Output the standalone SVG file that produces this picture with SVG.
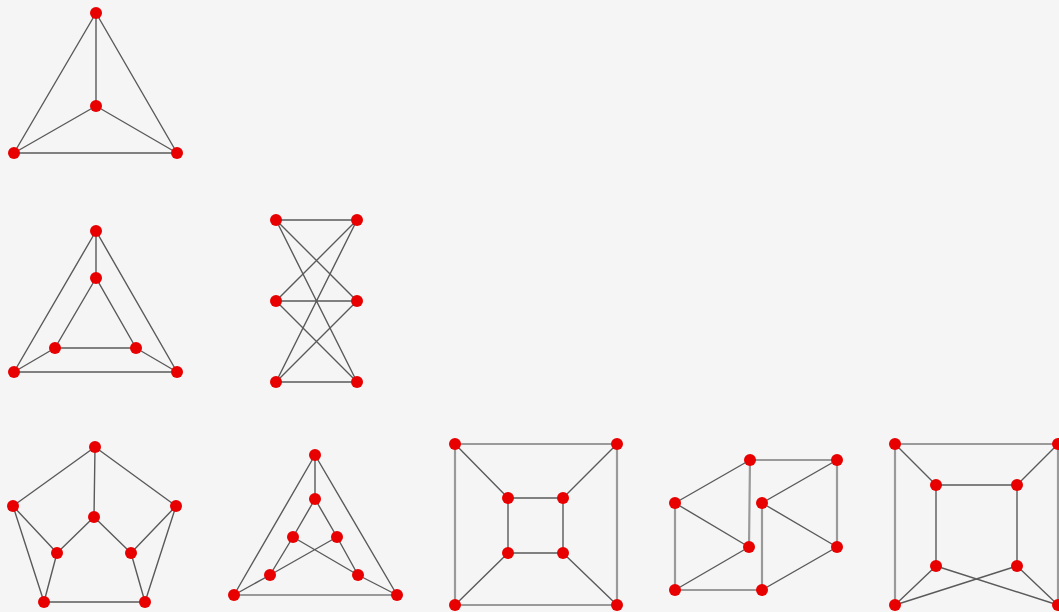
<svg xmlns="http://www.w3.org/2000/svg" width="1059" height="612" viewBox="0 0 1059 612">
<style>
.e{stroke:#5a5a5a;stroke-width:1.4;fill:none}
.w{stroke:#9a9a9a;stroke-width:2.2;fill:none}
.n{fill:#e80000}
</style>
<rect width="1059" height="612" fill="#f5f5f5"/>
<g id="connectors">
<!-- K4 -->
<path class="e" d="M96,13L14,153M96,13L177,153M96,13L96,106M96,106L14,153M96,106L177,153M14,153L177,153"/>
<!-- prism -->
<path class="e" d="M96,231L14,372L177,372ZM96,278L55,348L136,348ZM96,231L96,278M14,372L55,348M177,372L136,348"/>
<!-- K3,3 -->
<path class="e" d="M276,220L357,220M276,220L357,301M276,220L357,382M276,301L357,220M276,301L357,301M276,301L357,382M276,382L357,220M276,382L357,301M276,382L357,382"/>
<!-- graph 4 -->
<path class="e" d="M95,447L13,506M95,447L176,506M95,447L94,517M94,517L57,553M94,517L131,553M13,506L57,553M13,506L44,602M57,553L44,602M176,506L131,553M176,506L145,602M131,553L145,602M44,602L145,602"/>
<!-- graph 5 -->
<path class="e" d="M315,455L234,595M315,455L397,595M315,455L315,499M315,499L293,537M315,499L337,537M293,537L270,575M337,537L358,575M293,537L358,575M337,537L270,575M270,575L234,595M358,575L397,595"/>
<path class="w" d="M234,595L397,595"/>
<!-- cube -->
<path class="w" d="M455,444L617,444L617,605L455,605Z"/>
<path class="e" d="M508,498L563,498L563,553L508,553ZM455,444L508,498M617,444L563,498M455,605L508,553M617,605L563,553"/>
<!-- graph 7 -->
<path class="w" d="M750,460L837,460M837,460L837,547M675,503L675,590M762,503L762,590M675,590L762,590M750,460L749,547"/>
<path class="e" d="M750,460L675,503M675,503L749,547M675,590L749,547M762,503L837,460M762,503L837,547M762,590L837,547"/>
<!-- graph 8 -->
<path class="w" d="M895,444L1058,444M895,444L895,605M1058,444L1058,605"/>
<path class="e" d="M936,485L1017,485M936,485L936,566M1017,485L1017,566M895,444L936,485M1058,444L1017,485M895,605L936,566M1058,605L1017,566M895,605L1017,566M1058,605L936,566"/>
</g>
<g id="graph1" class="n"><circle cx="96" cy="13" r="6"/><circle cx="96" cy="106" r="6"/><circle cx="14" cy="153" r="6"/><circle cx="177" cy="153" r="6"/></g>
<g id="graph2" class="n"><circle cx="96" cy="231" r="6"/><circle cx="96" cy="278" r="6"/><circle cx="55" cy="348" r="6"/><circle cx="136" cy="348" r="6"/><circle cx="14" cy="372" r="6"/><circle cx="177" cy="372" r="6"/></g>
<g id="graph3" class="n"><circle cx="276" cy="220" r="6"/><circle cx="276" cy="301" r="6"/><circle cx="276" cy="382" r="6"/><circle cx="357" cy="220" r="6"/><circle cx="357" cy="301" r="6"/><circle cx="357" cy="382" r="6"/></g>
<g id="graph4" class="n"><circle cx="95" cy="447" r="6"/><circle cx="13" cy="506" r="6"/><circle cx="176" cy="506" r="6"/><circle cx="94" cy="517" r="6"/><circle cx="57" cy="553" r="6"/><circle cx="131" cy="553" r="6"/><circle cx="44" cy="602" r="6"/><circle cx="145" cy="602" r="6"/></g>
<g id="graph5" class="n"><circle cx="315" cy="455" r="6"/><circle cx="315" cy="499" r="6"/><circle cx="293" cy="537" r="6"/><circle cx="337" cy="537" r="6"/><circle cx="270" cy="575" r="6"/><circle cx="358" cy="575" r="6"/><circle cx="234" cy="595" r="6"/><circle cx="397" cy="595" r="6"/></g>
<g id="graph6" class="n"><circle cx="455" cy="444" r="6"/><circle cx="617" cy="444" r="6"/><circle cx="455" cy="605" r="6"/><circle cx="617" cy="605" r="6"/><circle cx="508" cy="498" r="6"/><circle cx="563" cy="498" r="6"/><circle cx="508" cy="553" r="6"/><circle cx="563" cy="553" r="6"/></g>
<g id="graph7" class="n"><circle cx="750" cy="460" r="6"/><circle cx="837" cy="460" r="6"/><circle cx="675" cy="503" r="6"/><circle cx="762" cy="503" r="6"/><circle cx="749" cy="547" r="6"/><circle cx="837" cy="547" r="6"/><circle cx="675" cy="590" r="6"/><circle cx="762" cy="590" r="6"/></g>
<g id="graph8" class="n"><circle cx="895" cy="444" r="6"/><circle cx="1058" cy="444" r="6"/><circle cx="895" cy="605" r="6"/><circle cx="1058" cy="605" r="6"/><circle cx="936" cy="485" r="6"/><circle cx="1017" cy="485" r="6"/><circle cx="936" cy="566" r="6"/><circle cx="1017" cy="566" r="6"/></g>
</svg>
